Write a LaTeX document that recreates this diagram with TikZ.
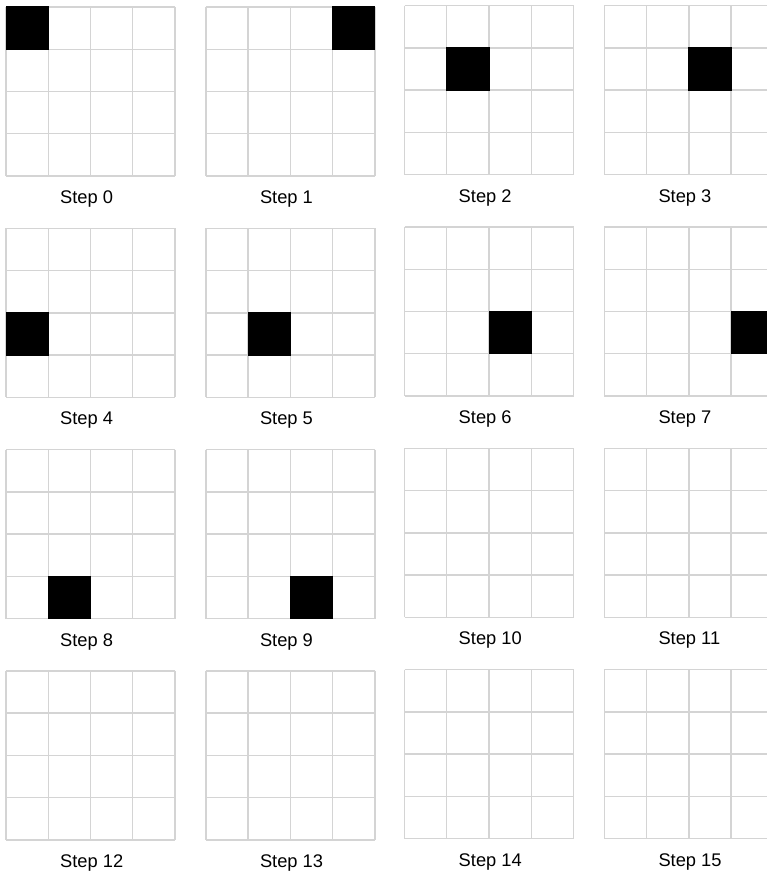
\documentclass[tikz,border=0pt]{standalone}
\usepackage{fontspec}
\setmainfont{Liberation Sans}
\definecolor{gridgray}{HTML}{D4D4D4}
\tikzset{
  gridline/.style={draw=gridgray,line width=1.4pt},
  blackcell/.style={fill=black},
  steplabel/.style={anchor=base west,inner sep=0pt,font=\fontsize{18.3}{20}\selectfont}
}
\begin{document}
\begin{tikzpicture}[x=1pt,y=-1pt]
\useasboundingbox (0,0) rectangle (767,872);
\clip (0,0) rectangle (767,872);
\fill[white] (0,0) rectangle (767,872);
\foreach \n/\bc/\br in {0/0/0,1/3/0,2/1/1,3/2/1,4/0/2,5/1/2,6/2/2,7/3/2,8/1/3,9/2/3,10/-1/-1,11/-1/-1,12/-1/-1,13/-1/-1,14/-1/-1,15/-1/-1}{
  \pgfmathtruncatemacro{\c}{mod(\n,4)}
  \pgfmathtruncatemacro{\r}{int(\n/4)}
  \pgfmathsetmacro{\xo}{{6,205.8,404.5,604.3}[\c]}
  \pgfmathsetmacro{\yo}{{7,7,5.7,5.7}[\c]+\r*221.3}
  \begin{scope}[shift={(\xo,\yo)}]
    \foreach \i in {0,...,4}{
      \draw[gridline] (\i*42.25,0) -- (\i*42.25,169);
      \draw[gridline] (0,\i*42.25) -- (169,\i*42.25);
    }
    \ifnum\bc>-1
      \fill[blackcell] (\bc*42.25-0.5,\br*42.25-0.5) rectangle +(43.25,43.25);
    \fi
    \node[steplabel] (lab\n) at (54,196.5) {Step \n};
  \end{scope}
}
\end{tikzpicture}
\end{document}
